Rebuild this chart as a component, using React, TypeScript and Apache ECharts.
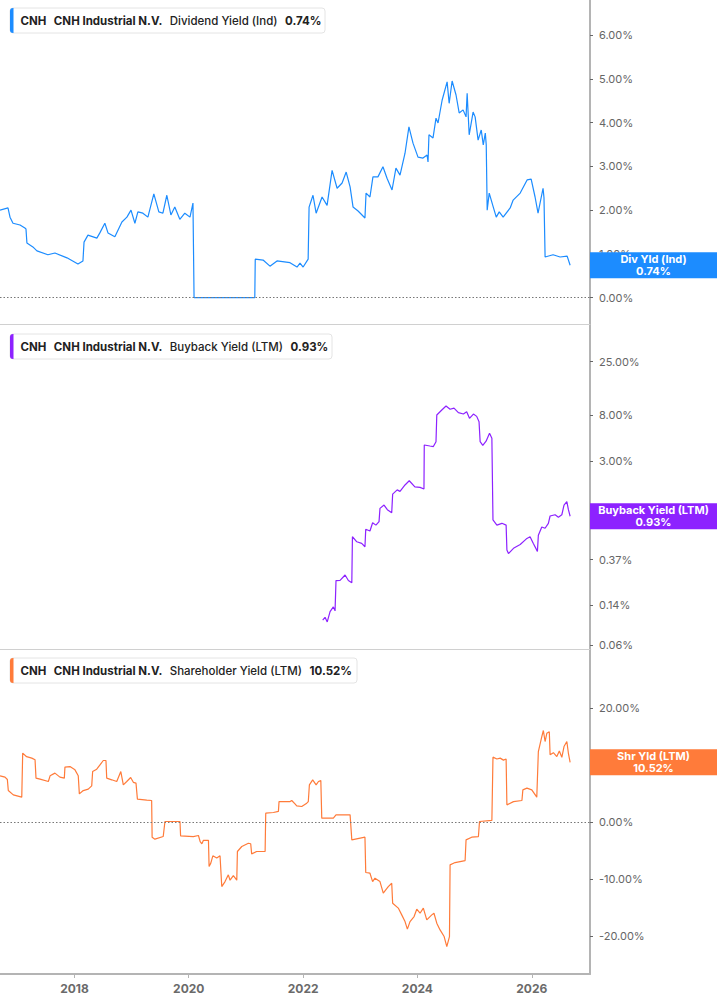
import React, { useEffect, useRef } from "react";
import * as echarts from "echarts";

// ---------- DATA ----------
const TICKER = "CNH";
const COMPANY = "CNH Industrial N.V.";

const dividendYield: [string, number][] = [
  ["2016-09-12", 2.0], ["2016-11-02", 2.05], ["2016-11-15", 1.84], ["2016-12-04", 1.7], ["2017-01-18", 1.66],
  ["2017-02-18", 1.59], ["2017-02-25", 1.57], ["2017-03-03", 1.25], ["2017-04-10", 1.16], ["2017-05-06", 1.07],
  ["2017-07-15", 0.98], ["2017-08-29", 1.02], ["2017-11-14", 0.91], ["2018-01-23", 0.77], ["2018-02-24", 0.84],
  ["2018-03-03", 1.27], ["2018-03-28", 1.43], ["2018-05-24", 1.36], ["2018-06-12", 1.48], ["2018-07-14", 1.7],
  ["2018-08-03", 1.48], ["2018-09-16", 1.39], ["2018-10-31", 1.73], ["2018-12-02", 1.84], ["2018-12-28", 2.0],
  ["2019-01-22", 1.7], ["2019-02-10", 1.96], ["2019-03-14", 1.93], ["2019-04-15", 1.84], ["2019-05-23", 2.37],
  ["2019-06-24", 1.96], ["2019-07-20", 1.93], ["2019-08-14", 2.34], ["2019-09-09", 1.89], ["2019-10-04", 2.07],
  ["2019-11-05", 1.79], ["2019-12-07", 1.93], ["2020-01-09", 1.84], ["2020-01-28", 2.16], ["2020-02-04", 0],
  ["2021-02-26", 0], ["2021-03-01", 0.88], ["2021-04-20", 0.86], ["2021-06-03", 0.72], ["2021-07-18", 0.84],
  ["2021-10-09", 0.8], ["2021-11-23", 0.7], ["2021-12-12", 0.79], ["2022-01-01", 0.7], ["2022-02-02", 0.88],
  ["2022-02-08", 2.07], ["2022-03-05", 2.34], ["2022-03-25", 1.93], ["2022-05-02", 2.3], ["2022-06-03", 2.11],
  ["2022-07-05", 2.91], ["2022-08-06", 2.5], ["2022-09-07", 2.62], ["2022-10-03", 2.87], ["2022-10-28", 2.53],
  ["2022-11-16", 2.07], ["2022-12-18", 1.98], ["2023-01-31", 1.82], ["2023-02-07", 2.39], ["2023-03-04", 2.3],
  ["2023-03-23", 2.76], ["2023-04-24", 2.76], ["2023-05-26", 2.99], ["2023-06-21", 2.73], ["2023-07-23", 2.46],
  ["2023-08-17", 2.96], ["2023-09-12", 2.8], ["2023-10-14", 3.3], ["2023-11-08", 3.9], ["2023-12-04", 3.53],
  ["2024-01-05", 3.21], ["2024-02-06", 3.19], ["2024-03-03", 3.26], ["2024-03-09", 3.1], ["2024-03-15", 3.72],
  ["2024-04-10", 3.65], ["2024-04-29", 4.1], ["2024-05-12", 3.99], ["2024-06-07", 4.51], ["2024-07-09", 4.93],
  ["2024-07-22", 4.44], ["2024-08-10", 4.95], ["2024-09-04", 4.63], ["2024-09-24", 4.22], ["2024-10-19", 4.29],
  ["2024-11-07", 4.13], ["2024-11-14", 4.67], ["2024-11-27", 3.72], ["2024-12-22", 4.24], ["2025-01-04", 4.13],
  ["2025-01-23", 3.6], ["2025-02-12", 3.83], ["2025-02-25", 3.49], ["2025-03-10", 3.76], ["2025-03-16", 3.49],
  ["2025-03-22", 2.0], ["2025-04-04", 2.39], ["2025-04-30", 2.07], ["2025-05-19", 1.84], ["2025-06-07", 1.96],
  ["2025-07-02", 1.84], ["2025-08-16", 2.05], ["2025-09-04", 2.23], ["2025-10-19", 2.39], ["2025-12-02", 2.69],
  ["2025-12-28", 2.71], ["2026-01-22", 2.3], ["2026-02-10", 1.93], ["2026-03-14", 2.5], ["2026-03-20", 2.28],
  ["2026-03-27", 0.93], ["2026-05-17", 0.98], ["2026-07-01", 0.93], ["2026-08-15", 0.95], ["2026-09-03", 0.74],
];

const buybackYield: [string, number][] = [
  ["2022-05-06", 0.102], ["2022-05-21", 0.108], ["2022-06-04", 0.098], ["2022-06-22", 0.122], ["2022-07-13", 0.135],
  ["2022-07-24", 0.124], ["2022-07-30", 0.236], ["2022-08-25", 0.237], ["2022-09-26", 0.266], ["2022-10-17", 0.237],
  ["2022-11-08", 0.226], ["2022-11-12", 0.601], ["2022-12-10", 0.54], ["2023-01-10", 0.522], ["2023-01-31", 0.486],
  ["2023-02-05", 0.705], ["2023-03-04", 0.68], ["2023-03-21", 0.81], ["2023-04-11", 0.77], ["2023-05-01", 0.83],
  ["2023-05-07", 1.1], ["2023-06-02", 1.18], ["2023-06-23", 1.07], ["2023-07-21", 1.0], ["2023-07-27", 1.49],
  ["2023-08-25", 1.63], ["2023-09-12", 1.58], ["2023-10-14", 1.81], ["2023-11-10", 1.98], ["2023-12-16", 1.74],
  ["2024-01-18", 1.72], ["2024-02-12", 1.66], ["2024-02-14", 4.24], ["2024-03-21", 4.15], ["2024-04-12", 4.1],
  ["2024-04-29", 4.55], ["2024-05-04", 8.03], ["2024-06-05", 8.94], ["2024-07-02", 9.73], ["2024-07-28", 9.07],
  ["2024-08-22", 9.3], ["2024-09-19", 8.44], ["2024-10-21", 8.2], ["2024-11-11", 8.6], ["2024-11-29", 7.48],
  ["2024-12-24", 8.2], ["2025-01-14", 7.8], ["2025-01-29", 6.97], ["2025-02-05", 4.55], ["2025-02-22", 4.2],
  ["2025-03-15", 4.6], ["2025-04-06", 5.44], ["2025-04-21", 4.9], ["2025-04-28", 0.859], ["2025-05-23", 0.77],
  ["2025-06-24", 0.8], ["2025-07-21", 0.77], ["2025-07-26", 0.453], ["2025-08-05", 0.42], ["2025-09-06", 0.47],
  ["2025-10-19", 0.51], ["2025-12-01", 0.58], ["2025-12-21", 0.6], ["2026-01-11", 0.52], ["2026-02-06", 0.44],
  ["2026-02-12", 0.62], ["2026-03-06", 0.74], ["2026-03-27", 0.72], ["2026-04-17", 0.8], ["2026-04-28", 0.935],
  ["2026-05-30", 0.96], ["2026-06-20", 0.91], ["2026-07-12", 0.96], ["2026-07-26", 1.18], ["2026-08-13", 1.27],
  ["2026-08-23", 1.07], ["2026-09-03", 0.93],
];

const shareholderYield: [string, number][] = [
  ["2016-09-12", 8.14], ["2016-10-14", 7.91], ["2016-10-29", 7.5], ["2016-11-04", 5.55], ["2016-12-06", 4.8],
  ["2017-01-29", 4.39], ["2017-02-04", 12.13], ["2017-03-01", 11.5], ["2017-04-03", 11.25], ["2017-04-24", 10.95],
  ["2017-04-30", 7.73], ["2017-05-26", 7.56], ["2017-07-18", 7.14], ["2017-07-29", 8.14], ["2017-08-29", 8.61],
  ["2017-09-30", 7.91], ["2017-10-28", 7.73], ["2017-11-01", 9.67], ["2017-12-03", 9.77], ["2018-01-04", 9.19],
  ["2018-01-25", 8.14], ["2018-02-01", 4.97], ["2018-02-26", 5.55], ["2018-03-30", 5.8], ["2018-04-21", 6.38],
  ["2018-04-27", 8.89], ["2018-05-23", 9.31], ["2018-06-13", 10.07], ["2018-07-04", 10.83], ["2018-07-21", 10.83],
  ["2018-07-26", 7.73], ["2018-08-27", 7.44], ["2018-09-28", 7.14], ["2018-10-24", 8.89], ["2018-11-09", 6.56],
  ["2018-12-01", 7.14], ["2018-12-26", 7.85], ["2019-01-12", 7.0], ["2019-01-29", 6.85], ["2019-02-07", 4.04],
  ["2019-04-08", 3.87], ["2019-05-09", 3.8], ["2019-05-12", -2.64], ["2019-05-30", -2.99], ["2019-07-22", -2.53],
  ["2019-08-02", 0.11], ["2019-11-06", 0.11], ["2019-11-10", -2.41], ["2020-01-30", -2.53], ["2020-03-03", -2.35],
  ["2020-03-14", -3.41], ["2020-03-25", -3.81], ["2020-04-04", -3.18], ["2020-05-06", -3.2], ["2020-05-10", -7.8],
  ["2020-05-21", -7.2], ["2020-06-03", -5.92], ["2020-06-28", -6.3], ["2020-07-19", -5.92], ["2020-07-30", -11.32],
  ["2020-08-20", -10.44], ["2020-09-10", -9.26], ["2020-09-21", -10.2], ["2020-10-12", -9.4], ["2020-11-03", -10.2],
  ["2020-11-07", -5.16], ["2020-12-05", -4.28], ["2021-01-16", -3.7], ["2021-01-31", -3.8], ["2021-02-06", -5.57],
  ["2021-03-10", -5.16], ["2021-05-03", -5.16], ["2021-05-07", 1.58], ["2021-06-25", 1.7], ["2021-07-27", 1.9],
  ["2021-07-31", 3.62], ["2021-09-18", 3.62], ["2021-10-10", 3.62], ["2021-10-20", 3.8], ["2021-11-10", 3.2],
  ["2021-11-21", 2.86], ["2021-12-23", 2.75], ["2022-01-24", 3.33], ["2022-02-03", 3.62], ["2022-02-10", 6.56],
  ["2022-03-03", 7.43], ["2022-03-25", 6.56], ["2022-04-09", 7.14], ["2022-04-24", 7.3], ["2022-04-30", 0.7],
  ["2022-07-13", 0.7], ["2022-07-30", 1.28], ["2022-10-28", 1.28], ["2022-11-08", -3.11], ["2023-01-31", -2.64],
  ["2023-02-05", -8.85], ["2023-03-04", -8.97], ["2023-03-21", -10.44], ["2023-04-05", -9.85], ["2023-05-07", -10.44],
  ["2023-05-28", -12.48], ["2023-06-29", -11.32], ["2023-07-21", -10.73], ["2023-07-27", -14.24], ["2023-09-01", -15.1],
  ["2023-09-23", -16.29], ["2023-10-14", -17.47], ["2023-10-29", -18.8], ["2023-11-15", -17.47], ["2023-12-11", -16.59],
  ["2023-12-28", -15.3], ["2024-01-18", -16.0], ["2024-02-08", -15.1], ["2024-03-01", -17.17], ["2024-04-02", -16.29],
  ["2024-04-16", -16.0], ["2024-05-04", -17.75], ["2024-05-25", -18.93], ["2024-06-20", -20.1], ["2024-07-07", -21.86],
  ["2024-07-24", -20.1], ["2024-07-28", -7.5], ["2024-08-29", -7.1], ["2024-11-01", -6.75], ["2024-11-07", -3.11],
  ["2024-12-13", -2.64], ["2025-01-25", -2.53], ["2025-02-01", 0.11], ["2025-04-21", 0.3], ["2025-04-28", 11.42],
  ["2025-05-23", 11.1], ["2025-06-13", 11.25], ["2025-07-04", 10.9], ["2025-07-21", 11.1], ["2025-07-26", 3.04],
  ["2025-09-06", 3.6], ["2025-10-30", 3.8], ["2025-11-05", 5.68], ["2025-12-01", 5.97], ["2026-01-01", 5.68],
  ["2026-02-02", 4.39], ["2026-02-12", 12.41], ["2026-03-06", 15.04], ["2026-03-16", 16.1], ["2026-03-27", 14.17],
  ["2026-04-07", 15.6], ["2026-04-23", 15.9], ["2026-04-28", 11.83], ["2026-05-19", 12.2], ["2026-06-10", 11.53],
  ["2026-06-26", 12.5], ["2026-07-12", 11.4], ["2026-07-26", 13.29], ["2026-08-13", 14.17], ["2026-08-23", 12.1],
  ["2026-09-03", 10.52],
];

const divTicks = [0, 1, 2, 3, 4, 5, 6];
const buybackTicks = [0.06, 0.14, 0.37, 1, 3, 8, 25];
const shrTicks = [-20, -10, 0, 10, 20];
const yearTicks = [2018, 2020, 2022, 2024, 2026];
const xStart = "2016-09-12";
const xEnd = "2027-01-08";

const panelNames = ["Dividend Yield (Ind)", "Buyback Yield (LTM)", "Shareholder Yield (LTM)"];
const shortNames = ["Div Yld (Ind)", "Buyback Yield (LTM)", "Shr Yld (LTM)"];
const lastLabels = ["0.74%", "0.93%", "10.52%"];
const colors = ["#1c8cff", "#8d22ff", "#ff7b3a"];

// ---------- LAYOUT ----------
const W = 717;
const H = 1005;
const PLOT_RIGHT = 127;
const PANEL_TOPS = [0, 324.7, 649.3];
const PANEL_H = 324.7;
const LEGEND_TOPS = [8, 334, 658];
const LEGEND_WIDTHS = [315, 322, 347];
const FONT = "Inter, 'Liberation Sans', sans-serif";
const AXIS_GRAY = "#b4b4b4";

const fmtPct = (v: number) => v.toFixed(2) + "%";
const toTime = (s: string) => {
  const [y, m, d] = s.split("-").map(Number);
  return Date.UTC(y, m - 1, d);
};

export default function App() {
  const ref = useRef<HTMLDivElement>(null);

  useEffect(() => {
    document.body.style.margin = "0";
    const chart = echarts.init(ref.current!, null, { renderer: "svg" });

    const xMin = toTime(xStart);
    const xMax = toTime(xEnd);
    const yearVals = yearTicks.map((y) => Date.UTC(y, 0, 1));

    const ranges: [number, number][] = [
      [-0.617, 6.8],
      [-1.263, 1.74],
      [-26.68, 30.37],
    ];
    const tickSets = [divTicks, buybackTicks.map((v) => Math.log10(v)), shrTicks];

    const grids = PANEL_TOPS.map((t) => ({ left: 0, right: PLOT_RIGHT, top: t, height: PANEL_H }));

    const xAxes = [0, 1, 2].map((i) => ({
      type: "value",
      gridIndex: i,
      min: xMin,
      max: xMax,
      splitLine: { show: false },
      axisLine: {
        show: true,
        onZero: false,
        lineStyle: i === 2 ? { color: AXIS_GRAY, width: 2 } : { color: "#d0d0d0", width: 1 },
      },
      axisTick: i === 2
        ? { show: true, length: 4, lineStyle: { color: AXIS_GRAY, width: 1 }, customValues: yearVals }
        : { show: false },
      axisLabel: i === 2
        ? {
            show: true,
            customValues: yearVals,
            formatter: (v: number) => String(new Date(v).getUTCFullYear()),
            color: "#6a6a6a",
            fontFamily: FONT,
            fontWeight: 700,
            fontSize: 12,
            margin: 8,
          }
        : { show: false },
    }));

    const yAxes = [0, 1, 2].map((i) => ({
      type: "value",
      gridIndex: i,
      position: "right",
      min: ranges[i][0],
      max: ranges[i][1],
      splitLine: { show: false },
      axisLine: { show: true, onZero: false, lineStyle: { color: AXIS_GRAY, width: 2 } },
      axisTick: { show: true, length: 3, lineStyle: { color: "#666", width: 1 }, customValues: tickSets[i] },
      axisLabel: {
        show: true,
        customValues: tickSets[i],
        formatter: (v: number) => (i === 1 ? fmtPct(Math.pow(10, v)) : fmtPct(v)),
        color: "#666",
        fontFamily: FONT,
        fontSize: 11,
        margin: 9,
      },
    }));

    const zeroLine = {
      silent: true,
      symbol: ["none", "none"],
      label: { show: false },
      emphasis: { disabled: true },
      lineStyle: { color: "#777", type: [1.5, 2], width: 1.2 },
      data: [{ yAxis: 0 }],
    };

    const seriesData = [
      dividendYield.map(([d, v]) => [toTime(d), v]),
      buybackYield.map(([d, v]) => [toTime(d), Math.log10(v)]),
      shareholderYield.map(([d, v]) => [toTime(d), v]),
    ];

    const series = [0, 1, 2].map((i) => ({
      type: "line",
      name: panelNames[i],
      xAxisIndex: i,
      yAxisIndex: i,
      data: seriesData[i],
      showSymbol: false,
      symbol: "none",
      lineStyle: { color: colors[i], width: 1.2 },
      itemStyle: { color: colors[i] },
      emphasis: { disabled: true },
      ...(i === 1 ? {} : { markLine: zeroLine }),
    }));

    chart.setOption({
      animation: false,
      grid: grids,
      xAxis: xAxes,
      yAxis: yAxes,
      series,
    });

    const lastVals = [
      dividendYield[dividendYield.length - 1][1],
      Math.log10(buybackYield[buybackYield.length - 1][1]),
      shareholderYield[shareholderYield.length - 1][1],
    ];

    const Z = 100;
    const graphics: any[] = [];
    [0, 1, 2].forEach((i) => {
      graphics.push({
        type: "group",
        x: 10,
        y: LEGEND_TOPS[i],
        children: [
          {
            type: "rect",
            z: Z,
            shape: { x: 0, y: 0, width: LEGEND_WIDTHS[i], height: 25, r: 3 },
            style: { fill: "#fff", stroke: "#e4e4e4", lineWidth: 1 },
          },
          {
            type: "rect",
            z: Z + 1,
            shape: { x: 0, y: 0, width: 3.5, height: 25, r: [3, 0, 0, 3] },
            style: { fill: colors[i] },
          },
          {
            type: "text",
            z: Z + 2,
            x: 10.5,
            y: 13,
            style: {
              text: `{b|${TICKER}}{s| }{b|${COMPANY}}{s| }{n|${panelNames[i]}}{s| }{b|${lastLabels[i]}}`,
              verticalAlign: "middle",
              rich: {
                b: { fontFamily: FONT, fontSize: 11.5, fontWeight: 700, fill: "#222" },
                n: { fontFamily: FONT, fontSize: 11.5, fontWeight: 500, fill: "#222" },
                s: { fontFamily: FONT, fontSize: 11.5, width: 7.5 },
              },
            },
          },
        ],
      });
      const py = chart.convertToPixel({ yAxisIndex: i }, lastVals[i]) as number;
      graphics.push({
        type: "group",
        x: W - PLOT_RIGHT,
        y: py - 13,
        children: [
          {
            type: "rect",
            z: Z,
            shape: { x: 0, y: 0, width: PLOT_RIGHT, height: 26 },
            style: { fill: colors[i] },
          },
          {
            type: "text",
            z: Z + 1,
            x: PLOT_RIGHT / 2,
            y: 13,
            style: {
              text: `${shortNames[i]}\n${lastLabels[i]}`,
              align: "center",
              verticalAlign: "middle",
              fill: "#fff",
              fontFamily: FONT,
              fontWeight: 700,
              fontSize: 11,
              lineHeight: 12,
            },
          },
        ],
      });
    });

    chart.setOption({ graphic: graphics });

    return () => chart.dispose();
  }, []);

  return <div ref={ref} style={{ width: W, height: H }} />;
}
